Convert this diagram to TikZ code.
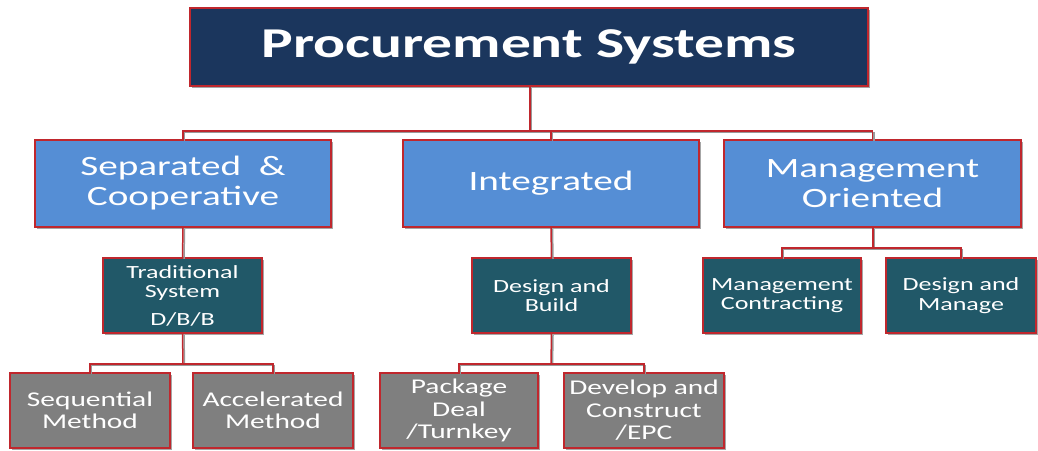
\documentclass[tikz,border=0pt]{standalone}
\usepackage{fontspec}
\setmainfont{Carlito}
\newfontfamily\wide[FakeStretch=1.4]{Carlito}
\usetikzlibrary{shadows}
\definecolor{navy}{HTML}{1B365D}
\definecolor{bord}{HTML}{C0272D}
\definecolor{lblue}{HTML}{558ED5}
\definecolor{tealdk}{HTML}{215868}
\definecolor{gry}{HTML}{7F7F7F}
\begin{document}
\begin{tikzpicture}[x=1pt,y=-1pt,
  box/.style={draw=bord, line width=1.3pt, text=white, align=center, inner sep=0pt,
    drop shadow={shadow xshift=2pt, shadow yshift=-2pt, opacity=0.35, fill=black}},
  lvA/.style={box, fill=navy, minimum width=678pt, minimum height=78pt,
    font=\wide\bfseries\fontsize{42.5}{46}\selectfont},
  lvB/.style={box, fill=lblue, minimum width=296pt, minimum height=87pt,
    font=\wide\fontsize{28}{30}\selectfont},
  lvC/.style={box, fill=tealdk, minimum width=159pt, minimum height=75pt,
    font=\wide\fontsize{18.6}{19.5}\selectfont},
  lvD/.style={box, fill=gry, minimum width=160pt, minimum height=75pt,
    font=\wide\fontsize{21}{22.5}\selectfont},
  conn/.style={draw=bord, line width=1.5pt,
    preaction={draw=black!40, line width=1.5pt, transform canvas={shift={(1.5pt,-1.5pt)}}}}
]
\useasboundingbox (0,0) rectangle (1038,450);

\node[lvA] (top) at (529,47) {Procurement Systems};

\node[lvB] (sep) at (183,183.5) {Separated\ \ \&\\Cooperative};
\node[lvB] (int) at (551,183.5) {Integrated};
\node[lvB, minimum width=297pt] (man) at (872.5,183.5) {Management\\Oriented};

\node[lvC] (trad) at (182.5,295.5) {Traditional\\System\\[8pt]D/B/B};
\node[lvC] (db) at (551.5,295.5) {Design and\\Build};
\node[lvC, minimum width=158pt] (mc) at (782,295.5) {Management\\Contracting};
\node[lvC, minimum width=150pt] (dm) at (961,295.5) {Design and\\Manage};

\node[lvD] (seq) at (90,410.5) {Sequential\\Method};
\node[lvD] (acc) at (273,410.5) {Accelerated\\Method};
\node[lvD, minimum width=158pt] (pkg) at (459,410.5) {Package\\Deal\\/Turnkey};
\node[lvD] (dev) at (644,410.5) {Develop and\\Construct\\/EPC};

\coordinate (b1) at (530,131);
\coordinate (b2) at (183,364);
\coordinate (b3) at (551,364);
\coordinate (b4) at (873,248);

\draw[conn] (top.south -| b1) -- (b1);
\draw[conn] (sep.north) -- (sep.north |- b1) -- (man.north |- b1) -- (man.north);
\draw[conn] (int.north |- b1) -- (int.north);

\draw[conn] (sep.south) -- (trad.north);
\draw[conn] (int.south) -- (db.north);

\draw[conn] (trad.south) -- (b2);
\draw[conn] (seq.north) -- (seq.north |- b2) -- (acc.north |- b2) -- (acc.north);

\draw[conn] (db.south) -- (b3);
\draw[conn] (pkg.north) -- (pkg.north |- b3) -- (dev.north |- b3) -- (dev.north);

\draw[conn] (man.south -| b4) -- (b4);
\draw[conn] (mc.north) -- (mc.north |- b4) -- (dm.north |- b4) -- (dm.north);
\end{tikzpicture}
\end{document}
